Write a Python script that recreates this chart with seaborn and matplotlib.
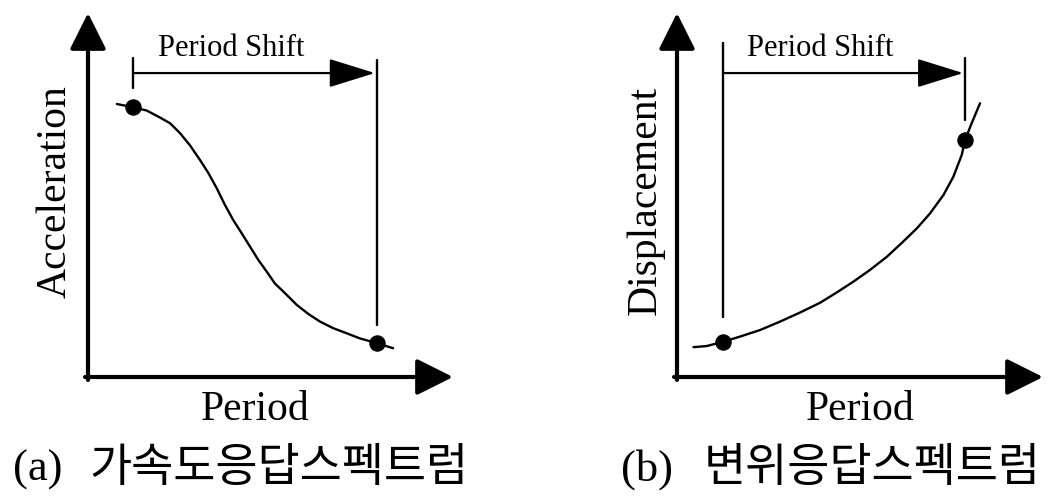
import matplotlib
matplotlib.use("Agg")
import matplotlib.pyplot as plt
import seaborn as sns
import pandas as pd

sns.set_theme(style="white")
plt.rcParams["font.family"] = ["Liberation Serif", "Noto Sans CJK KR", "DejaVu Sans"]

# Acceleration response spectrum (schematic, arbitrary units)
acc_period = [0.79, 1.24, 1.61, 1.97, 2.25, 2.52, 2.79, 3.07, 3.30, 3.53, 3.75, 3.98, 4.21,
              4.44, 4.67, 4.90, 5.12, 5.40, 5.72, 6.04, 6.36, 6.72, 7.09, 7.45, 7.91, 8.36]
acc_value = [7.50, 7.41, 7.32, 7.13, 6.97, 6.70, 6.37, 5.96, 5.60, 5.18, 4.73, 4.31, 3.95,
             3.58, 3.21, 2.89, 2.57, 2.30, 1.98, 1.73, 1.52, 1.34, 1.20, 1.06, 0.93, 0.79]
acc_pts_period = [1.24, 7.91]
acc_pts_value = [7.41, 0.93]

# Displacement response spectrum (schematic, arbitrary units)
disp_period = [0.45, 0.81, 1.27, 1.72, 2.27, 2.81, 3.36, 3.91, 4.36, 4.82, 5.27,
               5.73, 6.18, 6.55, 6.91, 7.28, 7.55, 7.78, 7.87, 8.05, 8.28]
disp_value = [0.82, 0.85, 0.97, 1.11, 1.29, 1.52, 1.77, 2.04, 2.32, 2.62, 2.94,
              3.30, 3.72, 4.08, 4.49, 5.00, 5.50, 6.10, 6.51, 6.97, 7.52]
disp_pts_period = [1.27, 7.87]
disp_pts_value = [0.97, 6.51]

panels = [
    dict(period=acc_period, value=acc_value, pp=acc_pts_period, pv=acc_pts_value,
         ylabel="Acceleration", tag="(a)", caption="가속도응답스펙트럼",
         left=88, right=453,
         tick_a=(7.94, 8.76), tick_b=(1.43, 8.71),
         ylab_x=55, ylab_y=192, per_x=255, tag_x=13, cap_x=89, shift_x=231),
    dict(period=disp_period, value=disp_value, pp=disp_pts_period, pv=disp_pts_value,
         ylabel="Displacement", tag="(b)", caption="변위응답스펙트럼",
         left=677, right=1043,
         tick_a=(1.65, 9.18), tick_b=(7.06, 8.76),
         ylab_x=646, ylab_y=200, per_x=860, tag_x=621, cap_x=704, shift_x=820),
]

W, H = 1049, 500
fig = plt.figure(figsize=(W / 100, H / 100), dpi=100)
fig.patch.set_facecolor("white")

top_px, base_px = 13, 377
shift_y = 8.35

for p in panels:
    ax = fig.add_axes([p["left"] / W, (H - base_px) / H,
                       (p["right"] - p["left"]) / W, (base_px - top_px) / H])
    ax.set_xlim(0, 10)
    ax.set_ylim(0, 10)
    ax.axis("off")

    curve = pd.DataFrame({"Period": p["period"], "Response": p["value"]})
    sns.lineplot(data=curve, x="Period", y="Response", sort=False,
                 color="black", lw=1.7, ax=ax)
    dots = pd.DataFrame({"Period": p["pp"], "Response": p["pv"]})
    sns.scatterplot(data=dots, x="Period", y="Response", color="black",
                    s=120, edgecolor="black", zorder=5, ax=ax)
    ax.set_xlabel("")
    ax.set_ylabel("")

    # coordinate axes with arrow heads
    axis_style = dict(arrowstyle="-|>,head_length=1.6,head_width=0.8",
                      mutation_scale=14, lw=3, color="black",
                      shrinkA=0, shrinkB=0)
    ax.annotate("", xy=(0, 10), xytext=(0, -0.08), arrowprops=axis_style,
                annotation_clip=False)
    ax.annotate("", xy=(10, 0), xytext=(-0.08, 0), arrowprops=axis_style,
                annotation_clip=False)

    # period shift markers
    t0, t1 = p["pp"]
    ax.plot([t0, t0], p["tick_a"], color="black", lw=1.7)
    ax.plot([t1, t1], p["tick_b"], color="black", lw=1.7)
    ax.annotate("", xy=(t1 - 0.05, shift_y), xytext=(t0, shift_y),
                arrowprops=dict(arrowstyle="-|>,head_length=2.9,head_width=0.9",
                                mutation_scale=10, lw=1.6, color="black",
                                shrinkA=0, shrinkB=0),
                annotation_clip=False)

    fig.text(p["shift_x"] / W, 1 - 48 / H, "Period Shift", fontsize=22,
             ha="center", va="center", color="black")
    fig.text(p["ylab_x"] / W, 1 - p["ylab_y"] / H, p["ylabel"], fontsize=30,
             rotation=90, ha="center", va="center", color="black")
    fig.text(p["per_x"] / W, 1 - 410 / H, "Period", fontsize=30,
             ha="center", va="center", color="black")
    fig.text(p["tag_x"] / W, 1 - 470 / H, p["tag"], fontsize=32,
             ha="left", va="center", color="black")
    fig.text(p["cap_x"] / W, 1 - 470 / H, p["caption"], fontsize=33,
             ha="left", va="center", color="black")

fig.savefig("out.png", dpi=100, facecolor="white")
